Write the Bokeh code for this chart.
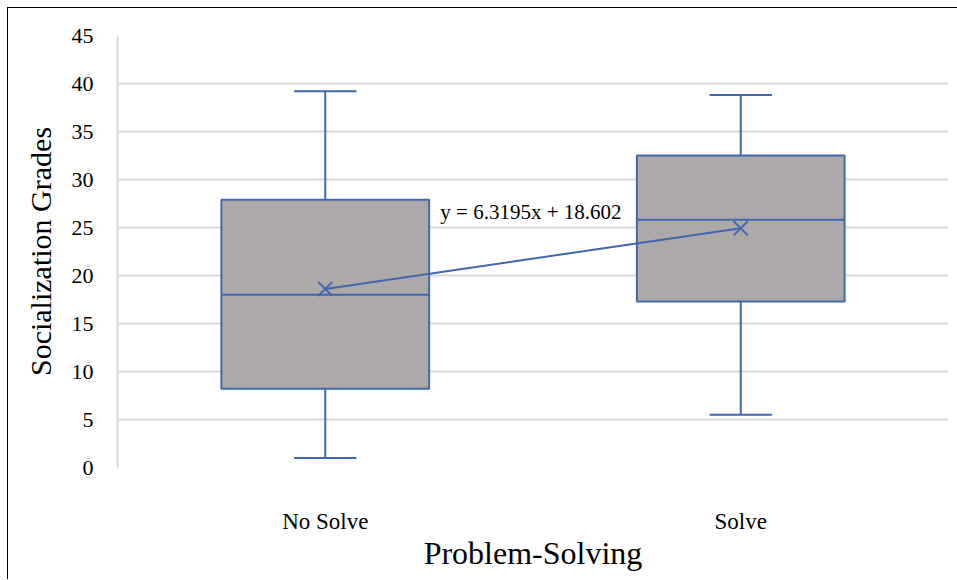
from bokeh.plotting import figure
from bokeh.models import Range1d, FixedTicker, ColumnDataSource
from bokeh.core.properties import value
from bokeh.embed import file_html
from bokeh.resources import INLINE

categories = ["No Solve", "Solve"]
positions = [0.5, 1.5]
whisker_low = [1.0, 5.5]
q1 = [8.2, 17.3]
median = [18.0, 25.8]
q3 = [27.9, 32.5]
whisker_high = [39.2, 38.8]
mean = [18.602, 24.92]
trend_label = "y = 6.3195x + 18.602"
y_ticks = [0, 5, 10, 15, 20, 25, 30, 35, 40, 45]

BLUE = "#4068B0"
FILL = "#ADA9A9"
FONT = "'Liberation Serif', 'Times New Roman', serif"

BOX_W = 0.5
CAP_W = 0.15

p = figure(width=950, height=572, output_backend="svg", toolbar_location=None,
           x_range=Range1d(0, 2), y_range=Range1d(0, 45))
p.styles = {"margin-left": "7px", "margin-top": "7px",
            "border-left": "1px solid black", "border-top": "1px solid black"}
p.min_border_left = 109
p.min_border_right = 10
p.min_border_top = 27
p.min_border_bottom = 113
p.outline_line_color = None
p.background_fill_color = "white"
p.border_fill_color = "white"

src = ColumnDataSource(dict(
    x=positions, lo=whisker_low, q1=q1, med=median, q3=q3, hi=whisker_high, mean=mean,
    cap0=[x - CAP_W / 2 for x in positions], cap1=[x + CAP_W / 2 for x in positions],
    box0=[x - BOX_W / 2 for x in positions], box1=[x + BOX_W / 2 for x in positions],
))

# whiskers
p.segment(x0="x", x1="x", y0="lo", y1="q1", source=src, line_color=BLUE, line_width=2)
p.segment(x0="x", x1="x", y0="q3", y1="hi", source=src, line_color=BLUE, line_width=2)
p.segment(x0="cap0", x1="cap1", y0="lo", y1="lo", source=src, line_color=BLUE, line_width=2)
p.segment(x0="cap0", x1="cap1", y0="hi", y1="hi", source=src, line_color=BLUE, line_width=2)
# boxes
p.vbar(x="x", bottom="q1", top="q3", width=BOX_W, source=src, fill_color=FILL,
       line_color=BLUE, line_width=2)
# median
p.segment(x0="box0", x1="box1", y0="med", y1="med", source=src, line_color=BLUE, line_width=2)
# trend line and mean markers
p.line(x="x", y="mean", source=src, line_color=BLUE, line_width=2)
p.scatter(x="x", y="mean", source=src, marker="x", size=20, line_color=BLUE, line_width=2)

p.text(x=[0.777], y=[26.6], text=[trend_label], text_font=value(FONT),
       text_font_size="21px", text_color="black", text_baseline="middle", text_align="left")

# axes
p.xaxis.ticker = FixedTicker(ticks=positions)
p.xaxis.major_label_overrides = {pos: c for pos, c in zip(positions, categories)}
p.xaxis.axis_line_color = None
p.xaxis.major_tick_line_color = None
p.xaxis.minor_tick_line_color = None
p.xaxis.major_label_text_font = FONT
p.xaxis.major_label_text_font_size = "23px"
p.xaxis.major_label_text_color = "black"
p.xaxis.major_label_standoff = 35
p.xaxis.axis_label = "Problem-Solving"
p.xaxis.axis_label_text_font = FONT
p.xaxis.axis_label_text_font_size = "32px"
p.xaxis.axis_label_text_font_style = "normal"
p.xaxis.axis_label_text_color = "black"
p.xaxis.axis_label_standoff = -2

p.yaxis.ticker = FixedTicker(ticks=y_ticks)
p.yaxis.axis_line_color = "#d9d9d9"
p.yaxis.axis_line_width = 2
p.yaxis.major_tick_line_color = None
p.yaxis.minor_tick_line_color = None
p.yaxis.major_label_text_font = FONT
p.yaxis.major_label_text_font_size = "22px"
p.yaxis.major_label_text_color = "black"
p.yaxis.major_label_standoff = 18
p.yaxis.axis_label = "Socialization Grades"
p.yaxis.axis_label_text_font = FONT
p.yaxis.axis_label_text_font_size = "30px"
p.yaxis.axis_label_text_font_style = "normal"
p.yaxis.axis_label_text_color = "black"
p.yaxis.axis_label_standoff = 12

p.xgrid.grid_line_color = None
p.ygrid.grid_line_color = "#d9d9d9"
p.ygrid.grid_line_width = 2

open("out.html", "w").write(file_html(p, INLINE))
